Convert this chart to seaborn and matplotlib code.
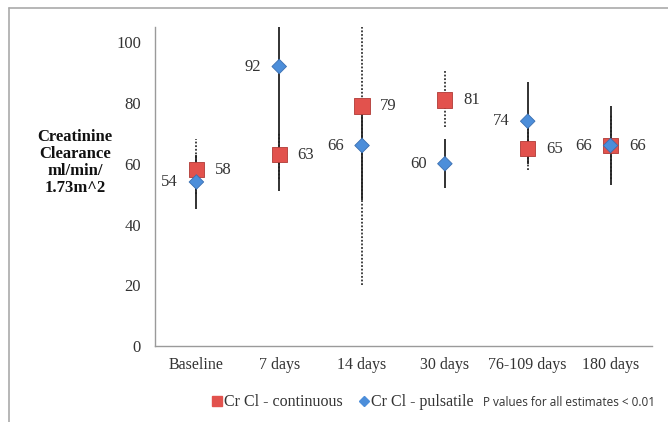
import numpy as np
import pandas as pd
import matplotlib.pyplot as plt
import seaborn as sns
from matplotlib.lines import Line2D

# data
timepoints = ['Baseline', '7 days', '14 days', '30 days', '76-109 days', '180 days']
continuous = [58, 63, 79, 81, 65, 66]
continuous_lo = [50, 55, 20, 72, 58, 55]
continuous_hi = [68, 70, 112, 91, 72, 76]
pulsatile = [54, 92, 66, 60, 74, 66]
pulsatile_lo = [45, 51, 48, 52, 60, 53]
pulsatile_hi = [63, 112, 80, 68, 87, 79]

df = pd.DataFrame({
    'Time': timepoints * 2,
    'Value': continuous + pulsatile,
    'Series': ['Cr Cl - continuous'] * 6 + ['Cr Cl - pulsatile'] * 6,
})

sns.set_style('white')
plt.rcParams['font.family'] = ['Liberation Serif', 'DejaVu Serif']

fig = plt.figure(figsize=(6.68, 4.22), dpi=100)
ax = fig.add_axes([0.232, 0.180, 0.744, 0.756])

xpos = np.arange(len(timepoints))
# whiskers: dotted for continuous, solid for pulsatile
ax.vlines(xpos, continuous_lo, continuous_hi, colors='#333333', linestyles=(0, (1, 1)), lw=1.3, zorder=1)
ax.vlines(xpos, pulsatile_lo, pulsatile_hi, colors='#222222', lw=1.3, zorder=1)

red = '#E2524D'
blue = '#4C8EDA'
sns.scatterplot(data=df, x='Time', y='Value', hue='Series', style='Series',
                markers={'Cr Cl - continuous': 's', 'Cr Cl - pulsatile': 'D'},
                palette={'Cr Cl - continuous': red, 'Cr Cl - pulsatile': blue},
                size='Series', sizes={'Cr Cl - continuous': 120, 'Cr Cl - pulsatile': 55},
                linewidth=0.6, ax=ax, legend=False, zorder=3)
coll = ax.collections[-1]
ec = [('#3B6FB0' if s == 'Cr Cl - pulsatile' else '#B03A35') for s in df['Series']]
coll.set_edgecolors(ec)

txt = '#333333'
for i in range(len(timepoints)):
    ax.text(xpos[i] + 0.22, continuous[i], str(continuous[i]), ha='left', va='center', fontsize=12, color=txt)
    ax.text(xpos[i] - 0.22, pulsatile[i], str(pulsatile[i]), ha='right', va='center', fontsize=12, color=txt)

ax.set_xlim(-0.5, len(timepoints) - 0.5)
ax.set_ylim(0, 105)
ax.set_yticks([0, 20, 40, 60, 80, 100])
ax.set_xticks(xpos)
ax.set_xticklabels(timepoints)
ax.set_xticks(np.arange(-0.5, len(timepoints)), minor=True)
ax.tick_params(axis='x', which='major', length=0, labelsize=11.5, labelcolor=txt, pad=8)
ax.tick_params(axis='x', which='minor', length=5, color='#999999', direction='out')
ax.tick_params(axis='y', length=4, color='#999999', labelsize=12, labelcolor=txt, direction='out', pad=6)
ax.set_xlabel('')
ax.set_ylabel('')
for side in ['top', 'right']:
    ax.spines[side].set_visible(False)
for side in ['left', 'bottom']:
    ax.spines[side].set_color('#9a9a9a')
    ax.spines[side].set_linewidth(1.0)

fig.text(0.112, 0.615, 'Creatinine\nClearance\nml/min/\n1.73m^2', ha='center', va='center',
         fontsize=12, fontweight='bold', color='#111111', linespacing=1.1)

# outer frame
fig.add_artist(Line2D([9 / 668, 9 / 668], [0, 1 - 8 / 422], transform=fig.transFigure, color='#aaaaaa', lw=1.2))
fig.add_artist(Line2D([9 / 668, 1], [1 - 8 / 422, 1 - 8 / 422], transform=fig.transFigure, color='#aaaaaa', lw=1.2))

handles = [
    Line2D([], [], marker='s', color='none', markerfacecolor=red, markeredgecolor=red, markersize=7),
    Line2D([], [], marker='D', color='none', markerfacecolor=blue, markeredgecolor=blue, markersize=5),
]
leg = fig.legend(handles, ['Cr Cl - continuous', 'Cr Cl - pulsatile'], loc='center left',
                 bbox_to_anchor=(0.318, 0.047), ncol=2, frameon=False, fontsize=11.5,
                 handlelength=0.6, handletextpad=0.15, columnspacing=1.0, labelcolor='#333333',
                 borderaxespad=0, borderpad=0)
fig.text(0.723, 0.047, 'P values for all estimates < 0.01', ha='left', va='center',
         fontsize=8.5, family=['Open Sans', 'DejaVu Sans'], color='#333333')

fig.savefig('out.png', dpi=100)
